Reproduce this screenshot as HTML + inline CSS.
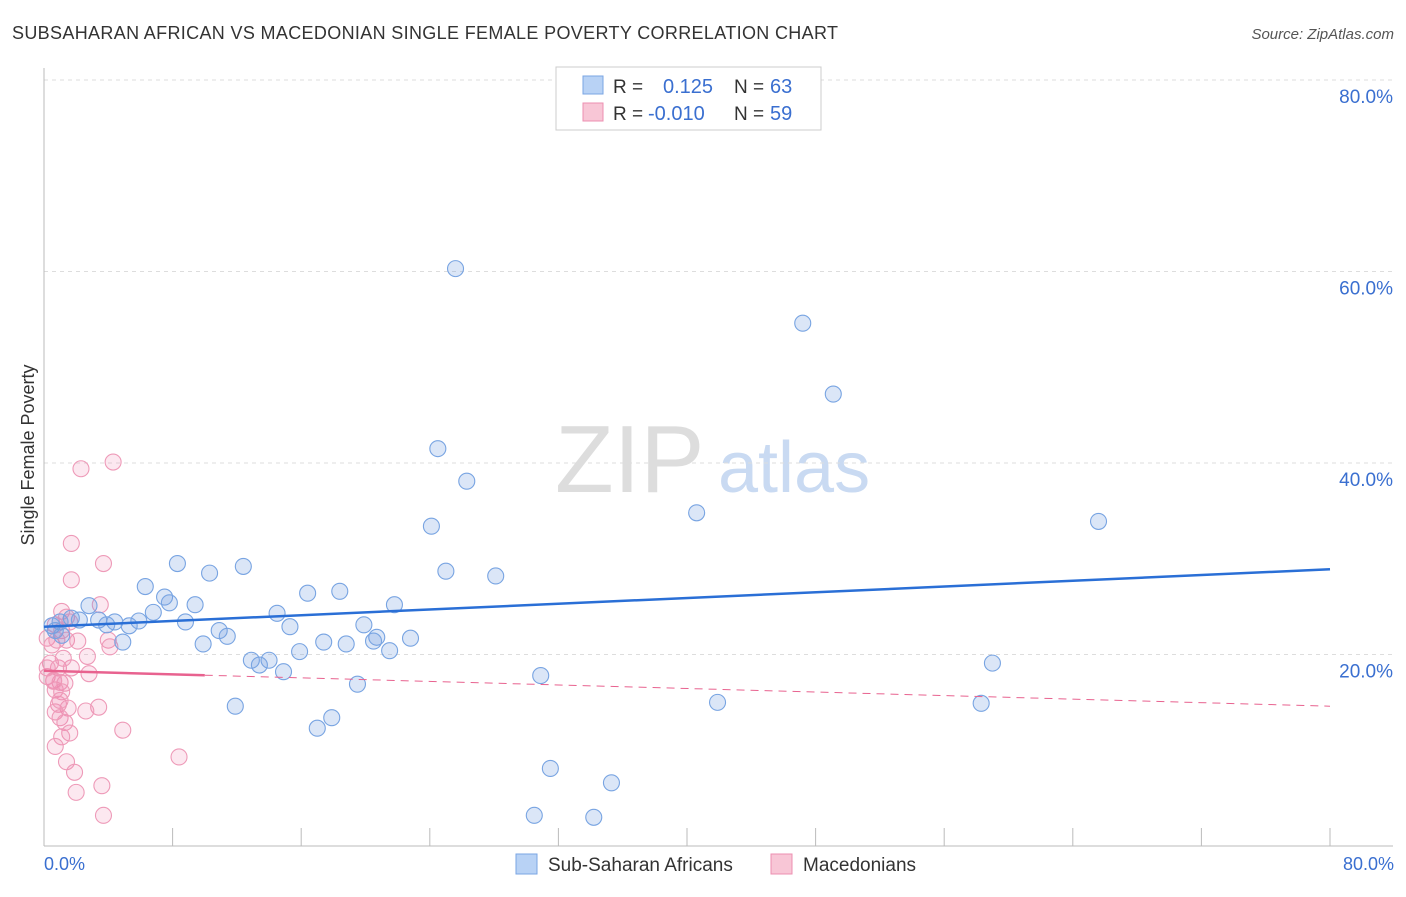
<!DOCTYPE html>
<html><head><meta charset="utf-8"><style>
body{margin:0;background:#fff;font-family:"Liberation Sans",sans-serif;}
svg text{font-family:"Liberation Sans",sans-serif;}
</style></head><body>
<svg id="c" width="1406" height="892">
<text x="12" y="39" font-size="18" fill="#333" textLength="826" lengthAdjust="spacing">SUBSAHARAN AFRICAN VS MACEDONIAN SINGLE FEMALE POVERTY CORRELATION CHART</text>
<text x="1394" y="39" font-size="15" fill="#555" text-anchor="end" font-style="italic">Source: ZipAtlas.com</text>
<text x="34" y="455" font-size="18" fill="#333" text-anchor="middle" transform="rotate(-90 34 455)">Single Female Poverty</text>
<text x="555" y="492" font-size="96" fill="#ddd" font-family="Liberation Serif">ZIP</text>
<text x="718" y="492" font-size="72" fill="#c9daf2">atlas</text>
<g id="grid"></g><g id="axes"></g><g id="pts"></g><g id="trend"></g>
<g>
<rect x="556" y="67" width="265" height="63" fill="#fff" stroke="#ccc"/>
<rect x="583" y="76" width="20" height="18" fill="#b8d2f5" stroke="#7aa5e3"/>
<text x="613" y="93" font-size="19" fill="#333">R =</text><text x="663" y="93" font-size="20" fill="#3a6fd0">0.125</text>
<text x="734" y="93" font-size="19" fill="#333">N =</text><text x="770" y="93" font-size="20" fill="#3a6fd0">63</text>
<rect x="583" y="103" width="20" height="18" fill="#f8c6d6" stroke="#ec8fb0"/>
<text x="613" y="120" font-size="19" fill="#333">R =</text><text x="648" y="120" font-size="20" fill="#3a6fd0">-0.010</text>
<text x="734" y="120" font-size="19" fill="#333">N =</text><text x="770" y="120" font-size="20" fill="#3a6fd0">59</text>
</g>
<g>
<rect x="516" y="854" width="21" height="20" fill="#b8d2f5" stroke="#7aa5e3"/>
<text x="548" y="871" font-size="19" fill="#333">Sub-Saharan Africans</text>
<rect x="771" y="854" width="21" height="20" fill="#f8c6d6" stroke="#ec8fb0"/>
<text x="803" y="871" font-size="19" fill="#333">Macedonians</text>
</g>
<text x="44" y="870" font-size="18" fill="#3a6fd0">0.0%</text>
<text x="1394" y="870" font-size="18" fill="#3a6fd0" text-anchor="end">80.0%</text>
</svg>
<script>
const yTicks=[20,40,60,80];
const blueX=[25.6,47.2,49.1,24.5,26.3,40.6,65.6,24.1,8.3,12.4,10.3,25.0,28.1,6.3,7.5,7.8,9.4,16.4,18.4,21.8,6.8,14.5,2.8,5.9,4.4,5.3,3.4,3.9,1.7,2.2,1.0,0.5,8.8,15.3,10.9,11.4,19.9,20.7,20.5,22.8,17.4,18.8,9.9,4.9,15.9,21.5,12.9,14.0,13.4,14.9,59.0,30.9,19.5,11.9,41.9,58.3,17.9,17.0,31.5,35.3,30.5,34.2,1.1,0.7];
const blueY=[60.3,54.6,47.2,41.5,38.1,34.8,33.9,33.4,29.5,29.2,28.5,28.7,28.2,27.1,26.0,25.4,25.2,26.4,26.6,25.2,24.4,24.3,25.1,23.5,23.4,23.0,23.6,23.1,23.8,23.6,23.4,23.0,23.4,22.9,22.5,21.9,23.1,21.8,21.4,21.7,21.3,21.1,21.1,21.3,20.3,20.4,19.4,19.4,18.9,18.2,19.1,17.8,16.9,14.6,15.0,14.9,13.4,12.3,8.1,6.6,3.2,3.0,22.0,22.5];
const pinkX=[2.3,4.3,1.7,3.7,1.7,3.5,1.1,1.4,1.6,0.7,1.1,0.2,0.5,0.8,1.4,2.1,4.0,4.1,2.7,0.4,0.9,1.7,2.8,0.2,0.6,1.0,1.3,0.7,1.1,0.9,1.5,0.7,3.4,2.6,1.0,1.3,4.9,1.6,1.1,0.7,1.4,1.9,8.4,3.6,2.0,3.7,0.6,0.2,1.0,1.2];
const pinkY=[39.4,40.1,31.6,29.5,27.8,25.2,24.5,23.9,23.4,23.1,22.5,21.7,21.0,21.5,21.5,21.4,21.5,20.8,19.8,19.1,18.6,18.6,18.0,17.7,17.3,17.1,17.0,16.3,16.1,14.8,14.4,14.0,14.5,14.1,13.4,12.9,12.1,11.8,11.4,10.4,8.8,7.7,9.3,6.3,5.6,3.2,17.2,18.6,15.2,19.6];
const blueTrend=[22.9,28.9];
const pinkTrend=[18.3,14.6];
const NS="http://www.w3.org/2000/svg";
const X=v=>44+v*(1330-44)/80, Y=v=>846-v*(846-80)/80;
function mk(t,a,p){const e=document.createElementNS(NS,t);for(const k in a)e.setAttribute(k,a[k]);document.getElementById(p).appendChild(e);return e;}
yTicks.forEach(t=>{
 const l=mk('line',{x1:44,x2:1393,y1:Y(t),y2:Y(t),stroke:'#ddd','stroke-dasharray':'4,4'},'grid');
 
 
 const tx=mk('text',{x:1393,y:Y(t)+23,'font-size':19,fill:'#3a6fd0','text-anchor':'end'},'grid');
 tx.textContent=t.toFixed(1)+'%';
 
 
});
let a=mk('line',{x1:44,x2:44,y1:68,y2:846,stroke:'#bbb'},'axes');


a=mk('line',{x1:44,x2:1393,y1:846,y2:846,stroke:'#bbb'},'axes');


for(let i=0;i<=10;i++){const t=mk('line',{x1:X(i*8),x2:X(i*8),y1:828,y2:846,stroke:'#bbb'},'axes');
 
 }
pinkX.forEach((v,i)=>{const c=mk('circle',{cx:X(v),cy:Y(pinkY[i]),r:8,fill:'rgba(240,130,170,0.18)',stroke:'#ee9ab8','stroke-width':1.1},'pts');
 
 });
blueX.forEach((v,i)=>{const c=mk('circle',{cx:X(v),cy:Y(blueY[i]),r:8,fill:'rgba(110,155,225,0.25)',stroke:'#78a4e2','stroke-width':1.1},'pts');
 
 });
let t=mk('line',{x1:X(0),x2:X(80),y1:Y(blueTrend[0]),y2:Y(blueTrend[1]),stroke:'#2a6fd6','stroke-width':2.5},'trend');


const pm=pinkTrend[0]+(pinkTrend[1]-pinkTrend[0])*10/80;
t=mk('line',{x1:X(0),x2:X(10),y1:Y(pinkTrend[0]),y2:Y(pm),stroke:'#e8628f','stroke-width':2.5},'trend');


t=mk('line',{x1:X(10),x2:X(80),y1:Y(pm),y2:Y(pinkTrend[1]),stroke:'#e8628f','stroke-width':1,'stroke-dasharray':'8,6'},'trend');


</script>
</body></html>
